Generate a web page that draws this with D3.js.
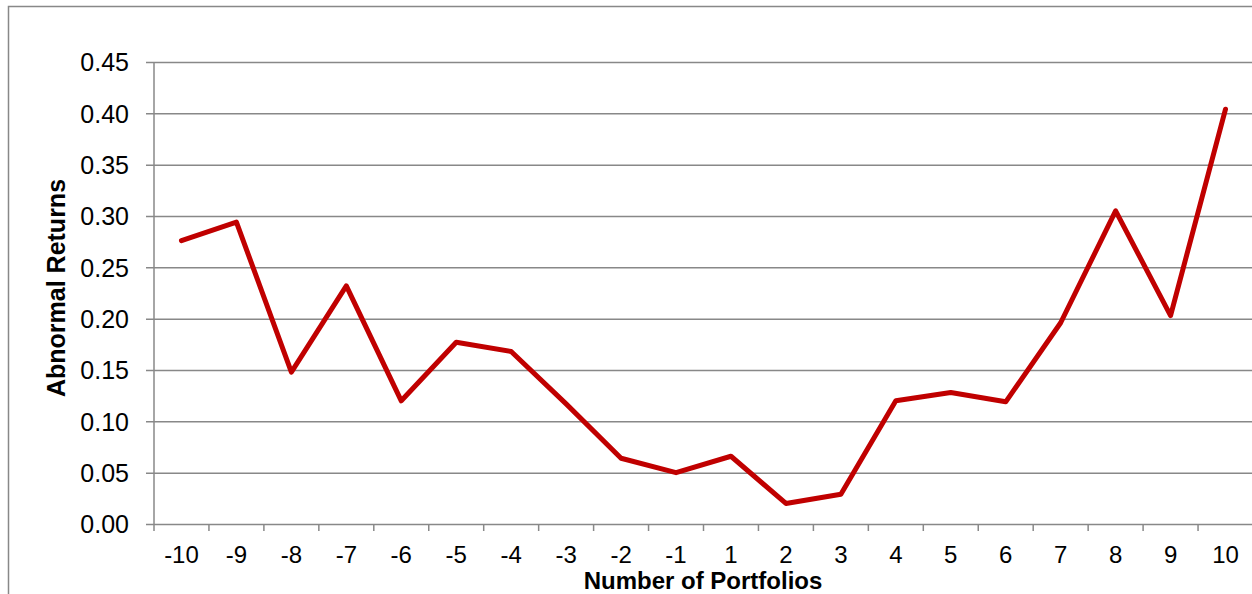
<!DOCTYPE html>
<html lang="en">
<head>
<meta charset="utf-8">
<title>Abnormal Returns</title>
<script src="https://cdn.jsdelivr.net/npm/d3@7/dist/d3.min.js"></script>
<style>
  body { margin: 0; background: #fff; }
  svg text { font-family: "Liberation Sans", Arial, sans-serif; fill: #000; }
</style>
</head>
<body>
<script>
// portfolios and their abnormal returns
var portfolios = ["-10", "-9", "-8", "-7", "-6", "-5", "-4", "-3", "-2", "-1",
                  "1", "2", "3", "4", "5", "6", "7", "8", "9", "10"];
var returns = [0.276, 0.294, 0.148, 0.232, 0.120, 0.177, 0.168, 0.117, 0.064, 0.050,
               0.066, 0.020, 0.029, 0.120, 0.128, 0.119, 0.196, 0.305, 0.203, 0.404];
var yTicks = [0, 0.05, 0.10, 0.15, 0.20, 0.25, 0.30, 0.35, 0.40, 0.45];

var w = 1252, h = 594;
var plotLeft = 154, plotRight = 1253, plotTop = 62, plotBottom = 524;

var svg = d3.select("body").append("svg")
  .attr("width", w)
  .attr("height", h);

// outer chart border (only left and top visible)
svg.append("path")
  .attr("d", "M8.5," + h + "V6.5H" + w)
  .attr("fill", "none")
  .attr("stroke", "#888")
  .attr("stroke-width", 1.5);

var x = d3.scaleBand()
  .domain(portfolios)
  .range([plotLeft, plotRight]);

var y = d3.scaleLinear()
  .domain([0, 0.45])
  .range([plotBottom, plotTop]);

// gridlines + y axis
var yAxis = d3.axisLeft(y)
  .tickValues(yTicks)
  .tickSize(-(plotRight - plotLeft))
  .tickPadding(25)
  .tickFormat(d3.format(".2f"));

var gy = svg.append("g")
  .attr("transform", "translate(" + plotLeft + ",0)")
  .call(yAxis);
gy.select(".domain").remove();
gy.selectAll(".tick line")
  .attr("x1", -8)
  .attr("stroke", "#888")
  .attr("stroke-width", 1.5);
gy.selectAll(".tick text")
  .attr("font-size", 25)
  .attr("dy", "0.35em");

// y axis line
svg.append("line")
  .attr("x1", plotLeft).attr("x2", plotLeft)
  .attr("y1", plotTop).attr("y2", plotBottom)
  .attr("stroke", "#888")
  .attr("stroke-width", 1.5);

// x axis: ticks between categories
var xAxis = d3.axisBottom(x).tickSize(0).tickPadding(22);
var gx = svg.append("g")
  .attr("transform", "translate(0," + plotBottom + ")")
  .call(xAxis);
gx.select(".domain").remove();
gx.selectAll(".tick text").attr("font-size", 24);

svg.append("g")
  .selectAll("line")
  .data(portfolios)
  .enter()
  .append("line")
  .attr("x1", function(d) { return x(d); })
  .attr("x2", function(d) { return x(d); })
  .attr("y1", plotBottom)
  .attr("y2", plotBottom + 7)
  .attr("stroke", "#888")
  .attr("stroke-width", 1.5);

// the line
var line = d3.line()
  .x(function(d, i) { return x(portfolios[i]) + x.bandwidth() / 2; })
  .y(function(d) { return y(d); });

svg.append("path")
  .datum(returns)
  .attr("d", line)
  .attr("fill", "none")
  .attr("stroke", "#c00000")
  .attr("stroke-width", 5)
  .attr("stroke-linejoin", "round")
  .attr("stroke-linecap", "round");

// axis titles
svg.append("text")
  .attr("x", 703)
  .attr("y", 589)
  .attr("text-anchor", "middle")
  .attr("font-size", 24)
  .attr("font-weight", "bold")
  .text("Number of Portfolios");

svg.append("text")
  .attr("transform", "translate(65,288) rotate(-90)")
  .attr("text-anchor", "middle")
  .attr("font-size", 25)
  .attr("font-weight", "bold")
  .text("Abnormal Returns");
</script>
</body>
</html>
